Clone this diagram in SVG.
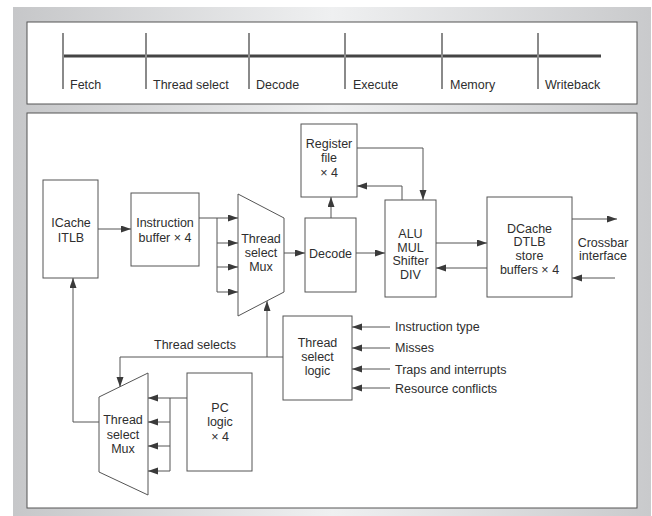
<svg xmlns="http://www.w3.org/2000/svg" width="652" height="516" viewBox="0 0 652 516">
<defs>
<linearGradient id="bg" x1="0" y1="0" x2="1" y2="0">
<stop offset="0" stop-color="#c6c7c9"/>
<stop offset="0.5" stop-color="#eff0f1"/>
<stop offset="1" stop-color="#c9cacc"/>
</linearGradient>
<marker id="ah" markerUnits="userSpaceOnUse" markerWidth="11" markerHeight="8" refX="10" refY="3.5" orient="auto">
<path d="M0,0 L10,3.5 L0,7 z" fill="#3a3a3a"/>
</marker>
<style>
text{font-family:"Liberation Sans",Arial,sans-serif;font-size:12.5px;fill:#2e2e2e}
.c{text-anchor:middle}
.box{fill:#fff;stroke:#555;stroke-width:1}
.ln{fill:none;stroke:#555;stroke-width:1}
.ar{fill:none;stroke:#555;stroke-width:1;marker-end:url(#ah)}
.tick{stroke:#8a8a8a;stroke-width:2}
</style>
</defs>
<rect x="0" y="0" width="652" height="516" fill="#fff"/>
<rect x="13" y="7" width="638" height="509" fill="url(#bg)"/>
<g id="pipeline">
<rect x="27" y="22" width="610" height="82" class="box" stroke="#666"/>
<line x1="63" y1="56" x2="601" y2="56" stroke="#444" stroke-width="3"/>
<line x1="63" y1="33" x2="63" y2="89" class="tick"/>
<line x1="146" y1="33" x2="146" y2="89" class="tick"/>
<line x1="249" y1="33" x2="249" y2="89" class="tick"/>
<line x1="345" y1="33" x2="345" y2="89" class="tick"/>
<line x1="442" y1="33" x2="442" y2="89" class="tick"/>
<line x1="538" y1="33" x2="538" y2="89" class="tick"/>
<text x="70" y="89">Fetch</text>
<text x="153" y="89">Thread select</text>
<text x="256" y="89">Decode</text>
<text x="353" y="89">Execute</text>
<text x="450" y="89">Memory</text>
<text x="545" y="89">Writeback</text>
</g>
<rect x="27" y="113" width="610" height="395" class="box" stroke="#666"/>
<g id="connectors">
<path class="ar" d="M98,229 H131"/>
<path class="ar" d="M199,218 H238"/>
<path class="ln" d="M217,218 V292"/>
<path class="ar" d="M217,243 H238"/>
<path class="ar" d="M217,267 H238"/>
<path class="ar" d="M217,292 H238"/>
<path class="ar" d="M284,253 H305"/>
<path class="ar" d="M331,218 V197"/>
<path class="ar" d="M357,148 H423 V200"/>
<path class="ar" d="M402,200 V186 H357"/>
<path class="ar" d="M356,253 H385"/>
<path class="ar" d="M436,243 H487"/>
<path class="ar" d="M487,268 H436"/>
<path class="ar" d="M572,219 H617"/>
<path class="ar" d="M615,278 H572"/>
<path class="ar" d="M283,357 H120 V387"/>
<path class="ar" d="M267,357 V301"/>
<path class="ar" d="M390,327 H352"/>
<path class="ar" d="M390,348 H352"/>
<path class="ar" d="M390,369 H352"/>
<path class="ar" d="M390,388 H352"/>
<path class="ar" d="M187,398 H148"/>
<path class="ln" d="M170,398 V471"/>
<path class="ar" d="M170,422 H148"/>
<path class="ar" d="M170,446 H148"/>
<path class="ar" d="M170,471 H148"/>
<path class="ar" d="M99,422 H73 V278"/>
</g>
<g id="icache">
<rect x="43" y="180" width="55" height="98" class="box"/>
<text x="71" y="226.5" class="c">ICache</text>
<text x="71" y="241.5" class="c">ITLB</text>
</g>
<g id="ibuffer">
<rect x="131" y="193" width="68" height="73" class="box"/>
<text x="165" y="226.5" class="c">Instruction</text>
<text x="165" y="241.5" class="c">buffer × 4</text>
</g>
<g id="mux1">
<polygon points="238,194 284,218 284,292 238,316" class="box"/>
<text x="261" y="242.5" class="c">Thread</text>
<text x="261" y="256.5" class="c">select</text>
<text x="261" y="270.5" class="c">Mux</text>
</g>
<g id="regfile">
<rect x="301" y="124" width="56" height="73" class="box"/>
<text x="329" y="147.5" class="c">Register</text>
<text x="329" y="161.5" class="c">file</text>
<text x="329" y="176.5" class="c">× 4</text>
</g>
<g id="decode">
<rect x="305" y="218" width="51" height="74" class="box"/>
<text x="330.5" y="257.5" class="c">Decode</text>
</g>
<g id="alu">
<rect x="385" y="200" width="51" height="97" class="box"/>
<text x="410.5" y="238" class="c">ALU</text>
<text x="410.5" y="251.5" class="c">MUL</text>
<text x="410.5" y="265" class="c">Shifter</text>
<text x="410.5" y="278.5" class="c">DIV</text>
</g>
<g id="dcache">
<rect x="487" y="197" width="85" height="100" class="box"/>
<text x="529.5" y="232.5" class="c">DCache</text>
<text x="529.5" y="246" class="c">DTLB</text>
<text x="529.5" y="259.5" class="c">store</text>
<text x="529.5" y="273.5" class="c">buffers × 4</text>
</g>
<g id="crossbar">
<text x="603" y="246.5" class="c">Crossbar</text>
<text x="603" y="260" class="c">interface</text>
</g>
<g id="tslogic">
<rect x="283" y="316" width="69" height="84" class="box"/>
<text x="317.5" y="346.5" class="c">Thread</text>
<text x="317.5" y="360.5" class="c">select</text>
<text x="317.5" y="374.5" class="c">logic</text>
</g>
<g id="inputs">
<text x="395" y="331">Instruction type</text>
<text x="395" y="352">Misses</text>
<text x="395" y="373.5">Traps and interrupts</text>
<text x="395" y="392.5">Resource conflicts</text>
</g>
<g id="threadselects">
<text x="195" y="349" class="c">Thread selects</text>
</g>
<g id="mux2">
<polygon points="99,397 148,373 148,495 99,472" class="box"/>
<text x="123" y="423.5" class="c">Thread</text>
<text x="123" y="438.5" class="c">select</text>
<text x="123" y="452.5" class="c">Mux</text>
</g>
<g id="pclogic">
<rect x="187" y="373" width="65" height="98" class="box"/>
<text x="220" y="411.5" class="c">PC</text>
<text x="220" y="425.5" class="c">logic</text>
<text x="220" y="440.5" class="c">× 4</text>
</g>
</svg>
